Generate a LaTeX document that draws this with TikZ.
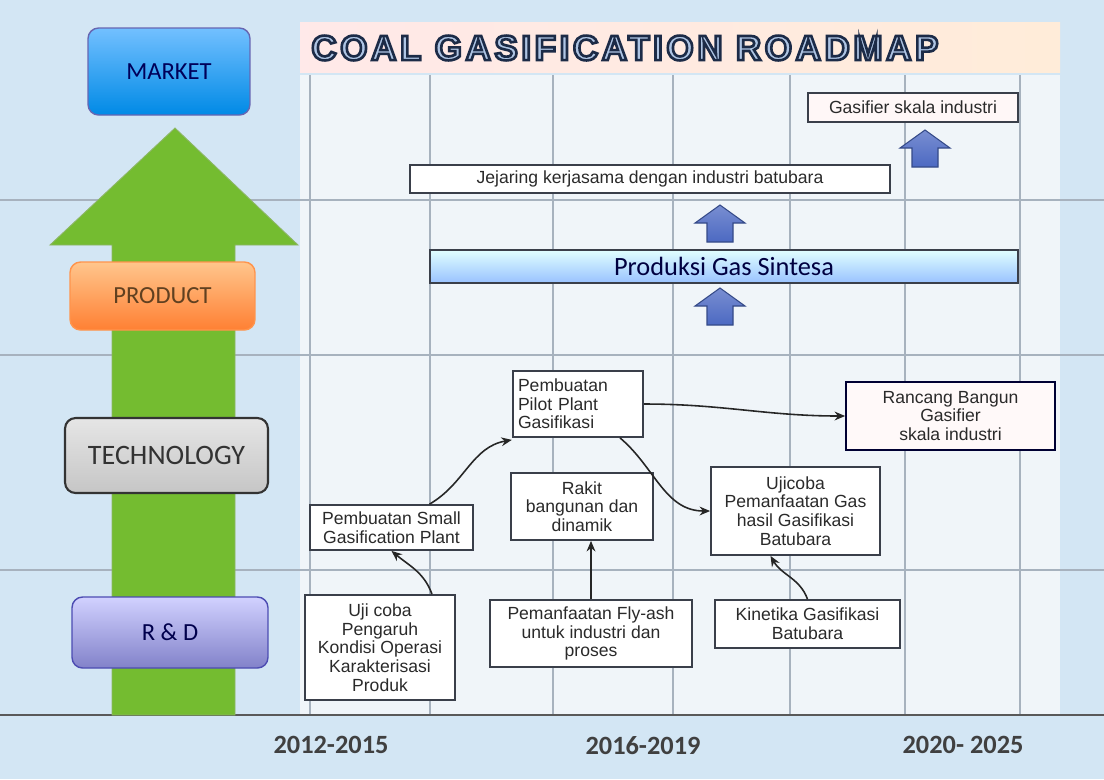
\documentclass[tikz,border=0pt]{standalone}
\usepackage{fontspec}
\setmainfont{Carlito}
\newfontfamily\boxfont{Liberation Sans}
\newfontfamily\titlefont[LetterSpace=10]{Liberation Sans Bold}
\usetikzlibrary{arrows.meta}

\definecolor{bgblue}{HTML}{D3E6F4}
\definecolor{chartbg}{HTML}{F0F5F9}
\definecolor{gridgray}{HTML}{A7B2BE}
\definecolor{boxline}{HTML}{3A3F4A}
\definecolor{textgray}{HTML}{2A2A2A}
\definecolor{titlefill}{HTML}{AFC5E4}
\definecolor{upblue}{HTML}{4C69C2}
\definecolor{greenlight}{HTML}{A6E052}
\definecolor{greendark}{HTML}{74BC30}

% outlined title letters: fill and stroke
\newcommand{\outlinetext}[1]{%
  {\color{titlefill}\special{pdf:literal direct 0.11 0.17 0.28 RG 2 Tr 1.5 w}#1%
  \special{pdf:literal direct 0 Tr}}}

\begin{document}
\begin{tikzpicture}[x = 0.02cm, y = -0.02cm,
		level/.style = {rounded corners = 6pt, line width = 0.8pt,
		font = \fontsize{14}{16}\selectfont},
		task/.style = {draw = boxline, line width = 1pt, fill = white,
		align = center, inner sep = 2pt, text = textgray,
		font = \boxfont\fontsize{10}{10.6}\selectfont},
		year/.style = {text = black!75, font = \bfseries\fontsize{15}{17}\selectfont},
		link/.style = {-{Stealth[length = 6pt, width = 5pt]}, line width = 0.9pt,
		black!85},
		upblock/.style = {draw = upblue!70!black, line width = 0.6pt,
		top color = upblue!75!white, bottom color = upblue},
		gridline/.style = {gridgray, line width = 0.6pt}]

	\useasboundingbox (0,0) rectangle (1104,779);
	\fill [bgblue] (0,0) rectangle (1104,779);
	\fill [chartbg] (300,75) rectangle (1060,715);

	% grid
	\foreach \gx in {310,430,553,673,790,905,1020}
		\draw [gridline] (\gx,75) -- (\gx,715);
	\foreach \gy in {200,355,570}
		\draw [gridline] (0,\gy) -- (1104,\gy);
	\draw [gray!70!black, line width = 1pt] (0,715) -- (1104,715);

	% title banner
	\shade [left color = pink!35, right color = orange!15] (300,22) rectangle (1060,72);
	\node [anchor = west, inner sep = 0pt] (title) at (311,48)
		{\titlefont\fontsize{20}{22}\selectfont\outlinetext{COAL GASIFICATION ROADMAP}};

	% big green arrow
	\shade [left color = greendark, middle color = greenlight,
		right color = greendark, draw = greendark!80!black!70, line width = 0.5pt]
		(175,128) -- (298,245) -- (235,245) -- (235,715) -- (112,715)
		-- (112,245) -- (50,245) -- cycle;

	% levels
	\node [level, draw = blue!50!black!60, top color = cyan!55!blue!55,
		bottom color = cyan!60!blue!90!black, text = blue!35!black,
		minimum width = 3.24cm, minimum height = 1.74cm] (l_4) at (169,71.5) {MARKET};
	\node [level, draw = orange!80!red!70, top color = orange!45!white,
		bottom color = orange!75!red!80, text = brown!50!black,
		minimum width = 3.7cm, minimum height = 1.36cm] (l_3) at (162.5,296) {PRODUCT};
	\node [level, draw = black!80, line width = 1.2pt, top color = gray!20,
		bottom color = gray!45, text = black!80, font = \fontsize{16}{18}\selectfont,
		minimum width = 4.06cm, minimum height = 1.5cm] (l_2) at (166.5,455.5) {TECHNOLOGY};
	\node [level, draw = blue!40!gray, top color = blue!18!white,
		bottom color = blue!40!gray!70, text = blue!30!black,
		minimum width = 3.92cm, minimum height = 1.42cm] (l_1) at (170,632.5) {R \& D};

	% market and product
	\node [task, fill = pink!12, minimum width = 4.2cm, minimum height = 0.58cm]
		(g_1) at (913,107.5) {Gasifier skala industri};
	\node [task, minimum width = 9.6cm, minimum height = 0.56cm]
		(p_2) at (650,179) {Jejaring kerjasama dengan industri batubara};
	\node [task, top color = cyan!12!white, bottom color = cyan!40!blue!40,
		font = \fontsize{15}{17}\selectfont, text = blue!25!black,
		minimum width = 11.76cm, minimum height = 0.66cm]
		(p_1) at (724,266.5) {Produksi Gas Sintesa};

	\foreach \ax/\ay in {720/205, 720/288, 925/130}
		\draw [upblock] (\ax,\ay) -- (\ax+25,\ay+18) -- (\ax+13,\ay+18) -- (\ax+13,\ay+37)
			-- (\ax-13,\ay+37) -- (\ax-13,\ay+18) -- (\ax-25,\ay+18) -- cycle;

	% technology
	\node [task, align = left, text width = 2.4cm, inner sep = 3pt,
		minimum height = 1.32cm] (t_2) at (578,404) {Pembuatan\\Pilot Plant\\Gasifikasi};
	\node [task, fill = pink!10, draw = blue!20!black, minimum width = 4.18cm,
		minimum height = 1.36cm] (t_4) at (950.5,416) {Rancang Bangun\\Gasifier\\skala industri};
	\node [task, minimum width = 3.26cm, minimum height = 0.9cm]
		(t_1) at (391.5,527.5) {Pembuatan Small\\Gasification Plant};
	\node [task, minimum width = 2.84cm, minimum height = 1.34cm]
		(t_3) at (582,506.5) {Rakit\\bangunan dan\\dinamik};
	\node [task, minimum width = 3.38cm, minimum height = 1.76cm]
		(t_5) at (795.5,511) {Ujicoba\\Pemanfaatan Gas\\hasil Gasifikasi\\Batubara};

	% r & d
	\node [task, minimum width = 3cm, minimum height = 2.1cm]
		(r_1) at (380,647.5) {Uji coba\\Pengaruh\\Kondisi Operasi\\Karakterisasi\\Produk};
	\node [task, minimum width = 4.04cm, minimum height = 1.34cm]
		(r_2) at (591,633.5) {Pemanfaatan Fly-ash\\untuk industri dan\\proses};
	\node [task, minimum width = 3.7cm, minimum height = 0.96cm]
		(r_3) at (807.5,624) {Kinetika Gasifikasi\\Batubara};

	\draw [link] ([xshift = 1.04cm]r_1.north) to [out = 110, in = -40] (t_1.south);
	\draw [link] ([xshift = 0.76cm]t_1.north) to [out = 30, in = 190] ([yshift = -0.04cm]t_2.south west);
	\draw [link] (t_2.east) to [out = 0, in = 180] (t_4.west);
	\draw [link] ([xshift = 0.84cm]t_2.south) to [out = -40, in = 180] (t_5.west);
	\draw [link] (r_2.north) -- (r_2.north |- t_3.south);
	\draw [link] (r_3.north) to [out = 110, in = -60] ([xshift = -0.5cm]t_5.south);

	% periods
	\node [year] (y_1) at (331,745) {2012-2015};
	\node [year] (y_2) at (643,746) {2016-2019};
	\node [year] (y_3) at (963,745) {2020- 2025};
\end{tikzpicture}
\end{document}
